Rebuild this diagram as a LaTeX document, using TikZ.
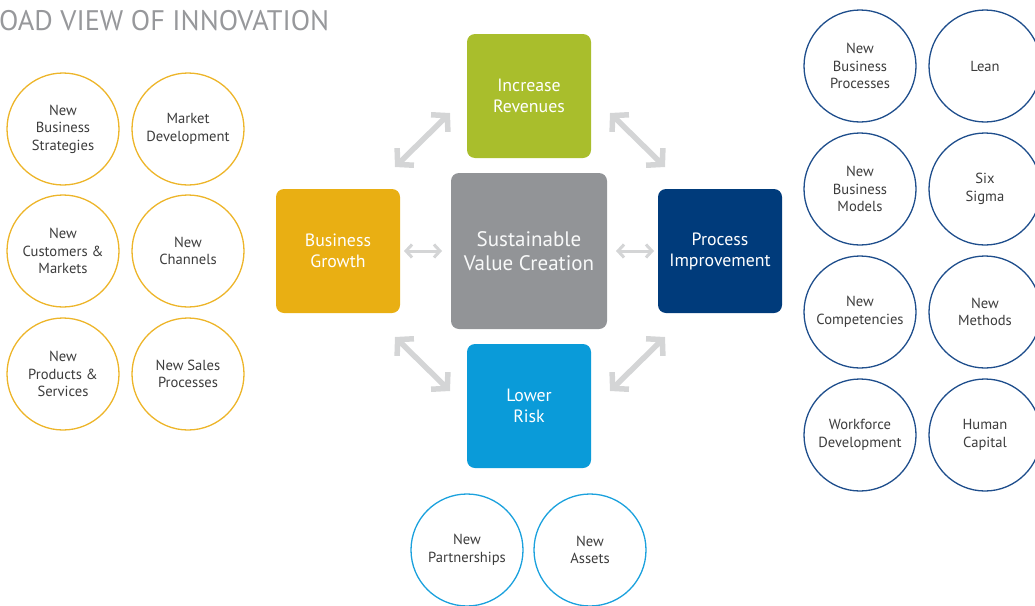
\documentclass[tikz,border=0pt]{standalone}
\usepackage{fontspec}
\setmainfont{PT Sans}
\usetikzlibrary{arrows.meta}
\definecolor{amber}{HTML}{E9AF13}
\definecolor{olive}{HTML}{A9BE2C}
\definecolor{slate}{HTML}{929497}
\definecolor{navy}{HTML}{003B7B}
\definecolor{sky}{HTML}{0A9BD9}
\definecolor{amberline}{HTML}{EDB52A}
\definecolor{navyline}{HTML}{1F4E8C}
\definecolor{skyline}{HTML}{1BA1DD}
\definecolor{arrowgray}{HTML}{D4D5D6}
\definecolor{ink}{HTML}{3C3C3C}
\definecolor{titlegray}{HTML}{97989B}
\tikzset{
  tile/.style={rounded corners=8pt, minimum width=124pt, minimum height=124pt,
    inner sep=0pt, align=center, text=white,
    font=\fontsize{17.8}{21}\selectfont},
  bigtile/.style={tile, minimum width=156pt, minimum height=156pt,
    text=white!94!slate, font=\fontsize{21}{24}\selectfont},
  bubble/.style={circle, draw, line width=1.3pt, minimum size=112pt,
    inner sep=0pt, align=center, text=ink,
    font=\fontsize{14.6}{17.6}\selectfont},
  amberbubble/.style={bubble, draw=amberline},
  navybubble/.style={bubble, draw=navyline},
  skybubble/.style={bubble, draw=skyline},
  bigarrow/.style={draw=arrowgray, line width=5.5pt,
    {Straight Barb[length=11pt,width=24pt]}-{Straight Barb[length=11pt,width=24pt]}},
  smallarrow/.style={draw=arrowgray, line width=3pt,
    {Straight Barb[length=6pt,width=13pt]}-{Straight Barb[length=6pt,width=13pt]}}
}
\begin{document}
\begin{tikzpicture}[x=1pt,y=-1pt]
\useasboundingbox (0,0) rectangle (1035,605);

% heading
\node[anchor=base west, inner sep=0pt, text=titlegray,
  font=\fontsize{28.3}{28}\selectfont] (title) at (-1,30) {OAD VIEW OF INNOVATION};

% central tiles
\node[bigtile, fill=slate] (core) at (529,251) {Sustainable\\Value Creation};
\node[tile, fill=olive] (rev) at (529,96) {Increase\\Revenues};
\node[tile, fill=amber] (growth) at (338,251) {Business\\Growth};
\node[tile, fill=navy] (proc) at (720,251) {Process\\Improvement};
\node[tile, fill=sky] (risk) at (529,406) {Lower\\Risk};

% arrow end points
\coordinate (a1) at (395,167); \coordinate (a2) at (450,113);
\coordinate (b1) at (610,113); \coordinate (b2) at (665,167);
\coordinate (c1) at (395,337); \coordinate (c2) at (450,391);
\coordinate (d1) at (610,391); \coordinate (d2) at (665,337);
\coordinate (e1) at (404,251); \coordinate (e2) at (442,251);
\coordinate (f1) at (616,251); \coordinate (f2) at (654,251);
\draw[bigarrow] (a1) -- (a2);
\draw[bigarrow] (b1) -- (b2);
\draw[bigarrow] (c1) -- (c2);
\draw[bigarrow] (d1) -- (d2);
\draw[smallarrow] (e1) -- (e2);
\draw[smallarrow] (f1) -- (f2);

% growth bubbles
\node[amberbubble] (g1) at (63,129) {New\\Business\\Strategies};
\node[amberbubble] (g2) at (188,129) {Market\\Development};
\node[amberbubble] (g3) at (63,251) {New\\Customers \&\\Markets};
\node[amberbubble] (g4) at (188,251) {New\\Channels};
\node[amberbubble] (g5) at (63,374) {New\\Products \&\\Services};
\node[amberbubble] (g6) at (188,374) {New Sales\\Processes};

% process bubbles
\node[navybubble] (p1) at (860,66) {New\\Business\\Processes};
\node[navybubble] (p2) at (985,66) {Lean};
\node[navybubble] (p3) at (860,189) {New\\Business\\Models};
\node[navybubble] (p4) at (985,189) {Six\\Sigma};
\node[navybubble] (p5) at (860,312) {New\\Competencies};
\node[navybubble] (p6) at (985,312) {New\\Methods};
\node[navybubble] (p7) at (860,435) {Workforce\\Development};
\node[navybubble] (p8) at (985,435) {Human\\Capital};

% risk bubbles
\node[skybubble] (r1) at (467,550) {New\\Partnerships};
\node[skybubble] (r2) at (590,550) {New\\Assets};
\end{tikzpicture}
\end{document}
